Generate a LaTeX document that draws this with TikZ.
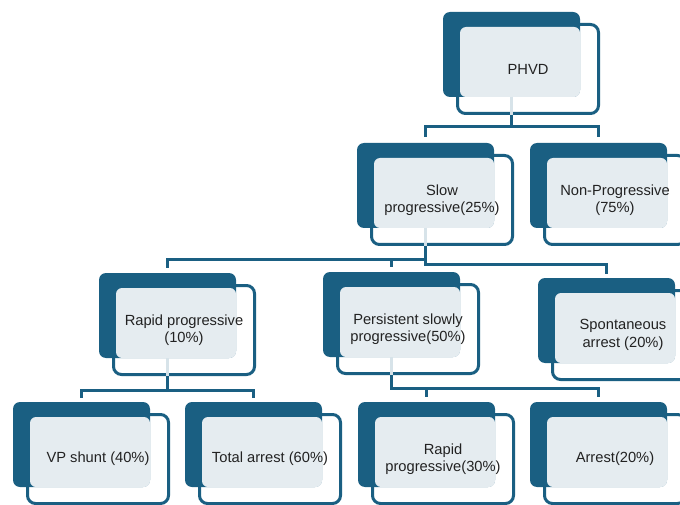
\documentclass[tikz,border=0pt]{standalone}
\usepackage{fontspec}
\setmainfont{Liberation Sans}
\definecolor{dk}{HTML}{1A5F82}
\definecolor{lt}{HTML}{E5ECF0}
\definecolor{txt}{HTML}{222222}
\tikzset{
 back/.style={fill=dk, draw=none, rounded corners=7pt, minimum width=137pt, minimum height=85pt, anchor=north west, inner sep=0pt, outer sep=0pt},
 face/.style={fill=lt, draw=none, rounded corners=6pt, minimum width=120pt, minimum height=70pt, anchor=north west, inner sep=0pt, outer sep=0pt},
 frame/.style={draw=dk, line width=3pt, rounded corners=8pt, minimum width=141pt, minimum height=89pt, anchor=center, inner sep=0pt, align=center, text=txt, font=\fontsize{14.7}{17.5}\selectfont},
 link/.style={draw=dk, line width=3pt},
 stub/.style={draw=lt!80!dk!60, line width=3pt}
}
\newcommand\orgbox[4]{%
 \node[back] (#1-b) at (#2,#3) {};
 \node[face] (#1-f) at (#2+17,#3+15) {};
 \node[frame] (#1) at (#2+85,#3+57) {#4};
 \coordinate (#1-o) at (#1-b.south |- #1.south);
}
\newcommand\parentstub[1]{\draw[stub] (#1-b.south) -- (#1-o);}
\begin{document}
\begin{tikzpicture}[x=1pt,y=-1pt]
\useasboundingbox (0,0) rectangle (680,505);
\clip (0,0) rectangle (680,505);
\orgbox{phvd}{443}{12}{PHVD}
\orgbox{slow}{357}{143}{Slow\\progressive(25\%)}
\orgbox{nonp}{530}{143}{Non-Progressive\\(75\%)}
\orgbox{rapid}{99}{273}{Rapid progressive\\(10\%)}
\orgbox{pers}{323}{272}{Persistent slowly\\progressive(50\%)}
\orgbox{spont}{538}{278}{Spontaneous\\arrest (20\%)}
\orgbox{vp}{13}{402}{VP shunt (40\%)}
\orgbox{total}{185}{402}{Total arrest (60\%)}
\orgbox{rapthirty}{358}{402}{Rapid\\progressive(30\%)}
\orgbox{arrest}{530}{402}{Arrest(20\%)}
\parentstub{phvd}
\parentstub{slow}
\parentstub{rapid}
\parentstub{pers}
% connectors
\draw[link] (phvd-o) -- ++(0,12) -| ([yshift=6pt]slow-b.north);
\draw[link] (phvd-o) -- ++(0,12) -| ([yshift=6pt]nonp-b.north);
\draw[link] (slow-o) -- ++(0,13) -| ([yshift=5pt]rapid-b.north);
\draw[link] (slow-o) -- ++(0,13) -| ([yshift=5pt]pers-b.north);
\draw[link] (slow-o) -- ++(0,18) -| ([yshift=4pt]spont-b.north);
\draw[link] (rapid-o) -- ++(0,14) -| ([yshift=4pt]vp-b.north);
\draw[link] (rapid-o) -- ++(0,14) -| ([yshift=4pt]total-b.north);
\draw[link] (pers-o) -- ++(0,13) -| ([yshift=5pt]rapthirty-b.north);
\draw[link] (pers-o) -- ++(0,13) -| ([yshift=5pt]arrest-b.north);
\end{tikzpicture}
\end{document}
